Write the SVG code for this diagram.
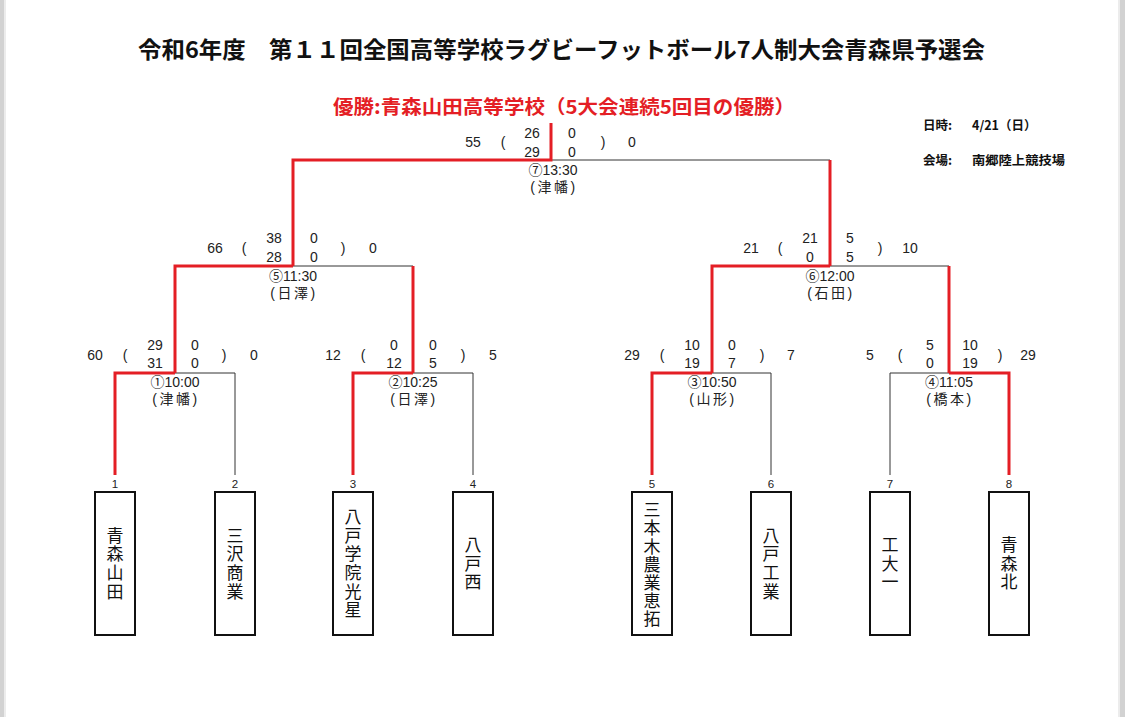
<svg xmlns="http://www.w3.org/2000/svg" width="1125" height="717" viewBox="0 0 1125 717">
<style>
.s{font-family:"Liberation Sans","Noto Sans CJK JP",sans-serif;font-size:14px;fill:#222;text-anchor:middle}
.v{font-family:"Liberation Sans","Noto Sans CJK JP",sans-serif;font-size:14px;fill:#222;text-anchor:middle;letter-spacing:2.5px}
.n{font-family:"Liberation Sans",sans-serif;font-size:11.5px;fill:#222;text-anchor:middle}
.t{font-family:"Noto Sans CJK JP",sans-serif;font-size:17px;fill:#111;text-anchor:middle;writing-mode:vertical-rl;letter-spacing:1.6px}
.i{font-family:"Noto Sans CJK JP",sans-serif;font-size:12.5px;font-weight:bold;fill:#111}
.b{fill:#fff;stroke:#111;stroke-width:2}
.k{fill:none;stroke:#333;stroke-width:1}
.r{fill:none;stroke:#e41e25;stroke-width:3}
</style>
<rect x="0" y="0" width="1125" height="717" fill="#fff"/>
<rect x="0" y="0" width="4" height="717" fill="#d2d2d2"/>
<rect x="4" y="0" width="2" height="717" fill="#ececec"/>
<rect x="1120" y="0" width="5" height="717" fill="#d2d2d2"/>
<rect x="1118" y="0" width="2" height="717" fill="#ececec"/>

<g id="header">
<text x="138" y="58" font-family="Noto Sans CJK JP, sans-serif" font-size="23" font-weight="bold" fill="#111" textLength="847" lengthAdjust="spacingAndGlyphs">令和6年度　第１１回全国高等学校ラグビーフットボール7人制大会青森県予選会</text>
<text x="333" y="114" font-family="Noto Sans CJK JP, sans-serif" font-size="19" font-weight="bold" fill="#e41e25" textLength="462" lengthAdjust="spacingAndGlyphs">優勝:青森山田高等学校（5大会連続5回目の優勝）</text>
<text class="i" x="923" y="130">日時:</text>
<text class="i" x="972" y="130">4/21（日）</text>
<text class="i" x="923" y="165">会場:</text>
<text class="i" x="972" y="165" textLength="93" lengthAdjust="spacingAndGlyphs">南郷陸上競技場</text>
</g>

<g id="connectors">
<path class="k" d="M551 160H830"/>
<path class="k" d="M293 266H413"/>
<path class="k" d="M830 266H949"/>
<path class="k" d="M175 373H235V475"/>
<path class="k" d="M413 373H473V475"/>
<path class="k" d="M712 373H771V475"/>
<path class="k" d="M949 373H890V475"/>
<path class="r" d="M551 123V160H293V266"/>
<path class="r" d="M830 160V266"/>
<path class="r" d="M293 266H175V373"/>
<path class="r" d="M413 266V373"/>
<path class="r" d="M830 266H712V373"/>
<path class="r" d="M949 266V373"/>
<path class="r" d="M175 373H115V475"/>
<path class="r" d="M413 373H353V475"/>
<path class="r" d="M712 373H652V475"/>
<path class="r" d="M949 373H1009V475"/>
</g>

<g id="match7">
<text class="s" x="473" y="147">55</text>
<text class="s" x="503" y="147">(</text>
<text class="s" x="532" y="138">26</text>
<text class="s" x="532" y="157">29</text>
<text class="s" x="572" y="138">0</text>
<text class="s" x="572" y="157">0</text>
<text class="s" x="603" y="147">)</text>
<text class="s" x="632" y="147">0</text>
<text class="s" x="553" y="175">⑦13:30</text>
<text class="v" x="554" y="192">(津幡)</text>
</g>

<g id="match5">
<text class="s" x="215" y="253">66</text>
<text class="s" x="244" y="253">(</text>
<text class="s" x="274" y="243">38</text>
<text class="s" x="274" y="262">28</text>
<text class="s" x="314" y="243">0</text>
<text class="s" x="314" y="262">0</text>
<text class="s" x="343" y="253">)</text>
<text class="s" x="373" y="253">0</text>
<text class="s" x="293" y="281">⑤11:30</text>
<text class="v" x="294" y="298">(日澤)</text>
</g>

<g id="match6">
<text class="s" x="751" y="253">21</text>
<text class="s" x="780" y="253">(</text>
<text class="s" x="810" y="243">21</text>
<text class="s" x="810" y="262">0</text>
<text class="s" x="850" y="243">5</text>
<text class="s" x="850" y="262">5</text>
<text class="s" x="880" y="253">)</text>
<text class="s" x="910" y="253">10</text>
<text class="s" x="830" y="281">⑥12:00</text>
<text class="v" x="831" y="298">(石田)</text>
</g>

<g id="match1">
<text class="s" x="95" y="360">60</text>
<text class="s" x="125" y="360">(</text>
<text class="s" x="155" y="350">29</text>
<text class="s" x="155" y="368">31</text>
<text class="s" x="195" y="350">0</text>
<text class="s" x="195" y="368">0</text>
<text class="s" x="224" y="360">)</text>
<text class="s" x="254" y="360">0</text>
<text class="s" x="175" y="387">①10:00</text>
<text class="v" x="176" y="404">(津幡)</text>
</g>

<g id="match2">
<text class="s" x="333" y="360">12</text>
<text class="s" x="363" y="360">(</text>
<text class="s" x="394" y="350">0</text>
<text class="s" x="394" y="368">12</text>
<text class="s" x="433" y="350">0</text>
<text class="s" x="433" y="368">5</text>
<text class="s" x="463" y="360">)</text>
<text class="s" x="493" y="360">5</text>
<text class="s" x="413" y="387">②10:25</text>
<text class="v" x="414" y="404">(日澤)</text>
</g>

<g id="match3">
<text class="s" x="632" y="360">29</text>
<text class="s" x="662" y="360">(</text>
<text class="s" x="692" y="350">10</text>
<text class="s" x="692" y="368">19</text>
<text class="s" x="732" y="350">0</text>
<text class="s" x="732" y="368">7</text>
<text class="s" x="762" y="360">)</text>
<text class="s" x="791" y="360">7</text>
<text class="s" x="712" y="387">③10:50</text>
<text class="v" x="713" y="404">(山形)</text>
</g>

<g id="match4">
<text class="s" x="870" y="360">5</text>
<text class="s" x="900" y="360">(</text>
<text class="s" x="930" y="350">5</text>
<text class="s" x="930" y="368">0</text>
<text class="s" x="970" y="350">10</text>
<text class="s" x="970" y="368">19</text>
<text class="s" x="1000" y="360">)</text>
<text class="s" x="1028" y="360">29</text>
<text class="s" x="949" y="387">④11:05</text>
<text class="v" x="950" y="404">(橋本)</text>
</g>

<g id="team1">
<text class="n" x="115" y="488">1</text>
<rect class="b" x="95" y="492" width="40" height="143"/>
<text class="t" x="115" y="564">青森山田</text>
</g>
<g id="team2">
<text class="n" x="235" y="488">2</text>
<rect class="b" x="215" y="492" width="40" height="143"/>
<text class="t" x="235" y="564">三沢商業</text>
</g>
<g id="team3">
<text class="n" x="353" y="488">3</text>
<rect class="b" x="333" y="492" width="40" height="143"/>
<text class="t" x="353" y="564">八戸学院光星</text>
</g>
<g id="team4">
<text class="n" x="473" y="488">4</text>
<rect class="b" x="453" y="492" width="40" height="143"/>
<text class="t" x="473" y="564">八戸西</text>
</g>
<g id="team5">
<text class="n" x="652" y="488">5</text>
<rect class="b" x="632" y="492" width="40" height="143"/>
<text class="t" x="652" y="565" style="letter-spacing:1.2px">三本木農業恵拓</text>
</g>
<g id="team6">
<text class="n" x="771" y="488">6</text>
<rect class="b" x="751" y="492" width="40" height="143"/>
<text class="t" x="771" y="564">八戸工業</text>
</g>
<g id="team7">
<text class="n" x="890" y="488">7</text>
<rect class="b" x="870" y="492" width="40" height="143"/>
<text class="t" x="890" y="564">工大一</text>
</g>
<g id="team8">
<text class="n" x="1009" y="488">8</text>
<rect class="b" x="989" y="492" width="40" height="143"/>
<text class="t" x="1009" y="564">青森北</text>
</g>
</svg>
